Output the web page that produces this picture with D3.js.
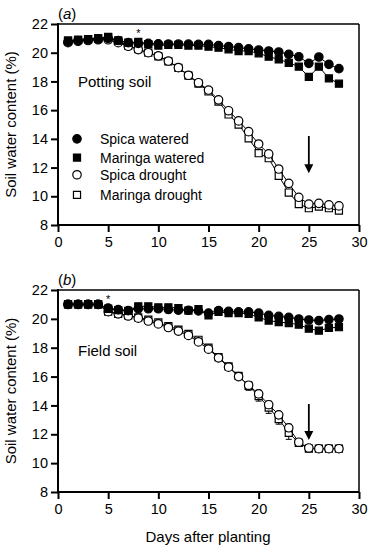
<!DOCTYPE html>
<html><head><meta charset="utf-8">
<script src="https://cdn.jsdelivr.net/npm/d3@7"></script>
<style>
html,body{margin:0;padding:0;background:#fff;}
text{font-family:"Liberation Sans",Arial,sans-serif;fill:#000;}
</style></head>
<body><svg id="c" width="373" height="550"></svg>
<script>
const days = d3.range(1, 29);
const xTicks = [0, 5, 10, 15, 20, 25, 30];
const yTicks = [8, 10, 12, 14, 16, 18, 20, 22];
const seriesNames = ["Spica watered", "Maringa watered", "Spica drought", "Maringa drought"];

// Panel (a) Potting soil
const potSpicaW   = [20.75,20.85,20.9,20.95,21.0,20.85,20.7,20.65,20.65,20.62,20.6,20.6,20.6,20.58,20.58,20.5,20.43,20.35,20.27,20.19,20.12,20.05,19.89,19.72,19.26,19.7,19.19,18.89];
const potMaringaW = [20.85,20.9,20.95,21.0,21.1,20.85,20.7,20.75,20.6,20.5,20.55,20.55,20.5,20.5,20.42,20.35,20.24,20.12,20.12,19.96,19.72,19.54,19.3,19.03,18.31,19.03,18.22,17.84];
const potSpicaD   = [20.7,20.8,20.85,20.9,20.9,20.7,20.45,20.22,20.0,19.78,19.42,18.96,18.43,17.91,17.4,16.72,15.96,15.25,14.5,13.64,12.95,11.9,10.9,9.93,9.46,9.51,9.4,9.33];
const potMaringaD = [20.8,20.9,20.95,21.0,21.05,20.8,20.5,20.25,20.0,19.75,19.4,18.95,18.4,17.85,17.3,16.6,15.7,15.0,14.04,13.0,12.65,11.42,10.26,9.46,9.17,9.28,9.17,9.0];

// Panel (b) Field soil
const fieldSpicaW   = [21.0,21.0,21.0,21.0,20.75,20.64,20.57,20.7,20.7,20.7,20.65,20.6,20.6,20.55,20.4,20.57,20.52,20.48,20.48,20.4,20.24,20.17,20.1,19.99,19.92,19.88,19.95,19.99];
const fieldMaringaW = [21.0,21.0,21.0,21.0,20.7,20.6,20.55,20.87,20.87,20.8,20.8,20.75,20.57,20.68,20.24,20.48,20.4,20.4,20.34,20.1,19.88,19.78,19.71,19.6,19.32,19.18,19.37,19.42];
const fieldSpicaD   = [21.0,21.0,21.0,21.0,20.5,20.35,20.2,20.05,19.85,19.65,19.4,19.15,18.85,18.4,17.9,17.3,16.65,16.0,15.4,14.8,14.05,13.35,12.45,11.45,11.05,11.0,11.0,11.0];
const fieldMaringaD = [21.0,21.0,21.0,21.0,20.5,20.35,20.25,20.1,19.95,19.75,19.5,19.25,18.95,18.55,18.0,17.35,16.7,16.05,15.35,14.65,13.85,13.05,12.1,11.4,11.0,11.0,11.0,11.0];
const fieldSpicaDErr   = [0,0,0,0,0.05,0.05,0.05,0.05,0.05,0.05,0.05,0.05,0.05,0.1,0.1,0.1,0.1,0.15,0.2,0.25,0.25,0.2,0.25,0.15,0.05,0.05,0.05,0.05];
const fieldMaringaDErr = [0,0,0,0,0.05,0.05,0.05,0.05,0.05,0.05,0.05,0.05,0.05,0.1,0.1,0.1,0.15,0.2,0.3,0.35,0.4,0.35,0.45,0.2,0.05,0.05,0.05,0.05];

const svg = d3.select("#c");
const x = d3.scaleLinear().domain([0, 30]).range([58, 359]);

function panel(cfg) {
  const y = d3.scaleLinear().domain([8, 22]).range([cfg.bottom, cfg.top]);
  const g = svg.append("g");
  g.append("line").attr("x1", x(0)).attr("x2", x(30)).attr("y1", y(22)).attr("y2", y(22)).attr("stroke", "#000").attr("stroke-width", 1.5);
  g.append("line").attr("x1", x(30)).attr("x2", x(30)).attr("y1", y(22)).attr("y2", y(8)).attr("stroke", "#000").attr("stroke-width", 1.5);
  const xa = g.append("g").attr("transform", `translate(0,${y(8)})`)
    .call(d3.axisBottom(x).tickValues(xTicks).tickSize(7).tickPadding(5));
  const ya = g.append("g").attr("transform", `translate(${x(0)},0)`)
    .call(d3.axisLeft(y).tickValues(yTicks).tickSize(7).tickPadding(3));
  [xa, ya].forEach(a => {
    a.select(".domain").attr("stroke-width", 2).attr("d", null);
    a.selectAll(".tick line").attr("stroke-width", 2);
    a.selectAll("text").attr("font-size", 14.5).attr("font-family", "Liberation Sans, Arial, sans-serif");
  });
  g.append("line").attr("x1", x(0)).attr("x2", x(30)).attr("y1", y(8)).attr("y2", y(8)).attr("stroke", "#000").attr("stroke-width", 2);
  g.append("line").attr("x1", x(0)).attr("x2", x(0)).attr("y1", y(22) - 1).attr("y2", y(8) + 1).attr("stroke", "#000").attr("stroke-width", 2);

  const line = d3.line().x((d, i) => x(days[i])).y(d => y(d));
  const circ = d3.symbol().type(d3.symbolCircle).size(56);
  const sq = d3.symbol().type(d3.symbolSquare).size(50);

  function drawSeries(vals, shape, filled, errs) {
    g.append("path").attr("d", line(vals)).attr("fill", "none").attr("stroke", "#000").attr("stroke-width", 1);
    if (errs) {
      vals.forEach((v, i) => {
        if (errs[i] >= 0.15) {
          const xx = x(days[i]);
          g.append("line").attr("x1", xx).attr("x2", xx).attr("y1", y(v - errs[i])).attr("y2", y(v + errs[i])).attr("stroke", "#000").attr("stroke-width", 1);
          [v - errs[i], v + errs[i]].forEach(e => g.append("line").attr("x1", xx - 3).attr("x2", xx + 3).attr("y1", y(e)).attr("y2", y(e)).attr("stroke", "#000").attr("stroke-width", 1));
        }
      });
    }
    g.selectAll(null).data(vals).enter().append("path")
      .attr("d", shape)
      .attr("transform", (d, i) => `translate(${x(days[i])},${y(d)})`)
      .attr("fill", filled ? "#000" : "#fff")
      .attr("stroke", "#000").attr("stroke-width", 1.2);
  }
  drawSeries(cfg.md, sq, false, cfg.mdErr);
  drawSeries(cfg.sd, circ, false, cfg.sdErr);
  drawSeries(cfg.mw, sq, true);
  drawSeries(cfg.sw, circ, true);

  const lt = g.append("text").attr("x", 58).attr("y", cfg.top - 5).attr("font-size", 15);
  lt.append("tspan").text("(");
  lt.append("tspan").attr("font-style", "italic").text(cfg.letter);
  lt.append("tspan").text(")");
  g.append("text").attr("x", x(cfg.starDay)).attr("y", cfg.top + 13).attr("text-anchor", "middle").attr("font-size", 11).text("*");
  g.append("text").attr("x", 78).attr("y", y(cfg.labelVal)).attr("font-size", 15).text(cfg.label);
  g.append("line").attr("x1", x(25)).attr("x2", x(25)).attr("y1", y(cfg.arrowFrom)).attr("y2", y(cfg.arrowTo) - 6).attr("stroke", "#000").attr("stroke-width", 1.8);
  g.append("path").attr("d", d3.line()([[x(25) - 4.5, y(cfg.arrowTo) - 9], [x(25) + 4.5, y(cfg.arrowTo) - 9], [x(25), y(cfg.arrowTo)]])+"Z").attr("fill", "#000");
  g.append("text").attr("transform", `translate(16,${(cfg.top + cfg.bottom) / 2}) rotate(-90)`)
    .attr("text-anchor", "middle").attr("font-size", 15).text("Soil water content (%)");
  return y;
}

const yA = panel({top: 24, bottom: 225, letter: "a", starDay: 8, label: "Potting soil", labelVal: 17.6,
  arrowFrom: 14.2, arrowTo: 11.6,
  sw: potSpicaW, mw: potMaringaW, sd: potSpicaD, md: potMaringaD});
panel({top: 290, bottom: 492, letter: "b", starDay: 5, label: "Field soil", labelVal: 17.4,
  arrowFrom: 14.1, arrowTo: 11.6,
  sw: fieldSpicaW, mw: fieldMaringaW, sd: fieldSpicaD, md: fieldMaringaD, sdErr: fieldSpicaDErr, mdErr: fieldMaringaDErr});

const legY = [14.0, 12.7, 11.5, 10.1];
const legShapes = [d3.symbolCircle, d3.symbolSquare, d3.symbolCircle, d3.symbolSquare];
const legFill = ["#000", "#000", "#fff", "#fff"];
seriesNames.forEach((n, i) => {
  const yy = yA(legY[i]);
  svg.append("path").attr("d", d3.symbol().type(legShapes[i]).size(i % 2 ? 50 : 56)())
    .attr("transform", `translate(77,${yy})`).attr("fill", legFill[i]).attr("stroke", "#000").attr("stroke-width", 1.2);
  svg.append("text").attr("x", 100).attr("y", yy + 5).attr("font-size", 14).text(n);
});

svg.append("text").attr("x", 208).attr("y", 542).attr("text-anchor", "middle").attr("font-size", 15).text("Days after planting");
</script>
</body></html>
